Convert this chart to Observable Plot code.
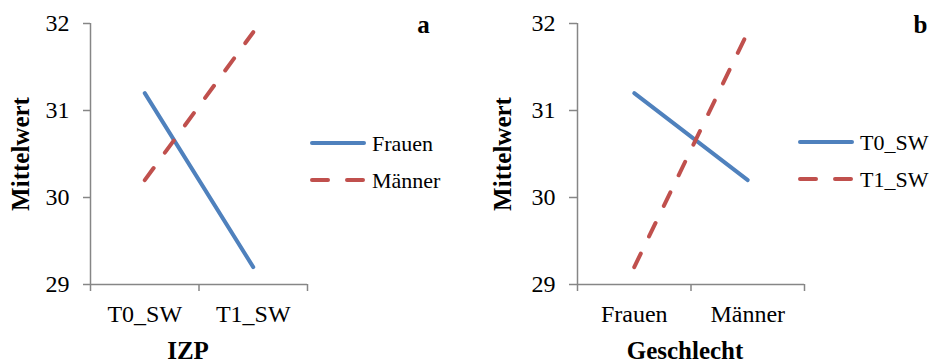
<!DOCTYPE html>
<html>
<head>
<meta charset="utf-8">
<script src="https://cdn.jsdelivr.net/npm/d3@7"></script>
<script src="https://cdn.jsdelivr.net/npm/@observablehq/plot@0.6"></script>
<style>
  html, body { margin: 0; padding: 0; background: #fff; }
  #wrap { position: relative; width: 936px; height: 363px; overflow: hidden; font-family: "Liberation Serif", serif; }
  #wrap > .panel { position: absolute; top: 0; }
  .legend { position: absolute; }
</style>
</head>
<body>
<div id="wrap"></div>
<script>
// ---- data ----
const yTicks = [29, 30, 31, 32];

const panelA_categories = ["T0_SW", "T1_SW"];
const panelA_frauen = [31.2, 29.2];
const panelA_maenner = [30.2, 31.9];
const panelA_seriesNames = ["Frauen", "Männer"];

const panelB_categories = ["Frauen", "Männer"];
const panelB_t0 = [31.2, 30.2];
const panelB_t1 = [29.2, 31.9];
const panelB_seriesNames = ["T0_SW", "T1_SW"];

const BLUE = "#4F81BD";
const RED = "#C0504D";
const AXIS = "#868686";
const DASH = "15 19";
const SERIF = "Liberation Serif, serif";

function rows(values, name) {
  return values.map((v, i) => ({ i, value: v, series: name }));
}

function panel(cfg) {
  const s1 = rows(cfg.solid, cfg.names[0]);
  const s2 = rows(cfg.dashed, cfg.names[1]);
  return Plot.plot({
    width: 468,
    height: 363,
    marginLeft: cfg.marginLeft,
    marginRight: cfg.marginRight,
    marginTop: 23,
    marginBottom: 79,
    style: { fontFamily: SERIF, fontSize: "24px", color: "#000", background: "#fff", overflow: "visible" },
    x: { type: "linear", domain: [-0.5, cfg.categories.length - 0.5] },
    y: { domain: [29, 32] },
    marks: [
      Plot.axisY({ ticks: yTicks, tickSize: cfg.yTickSize, tickPadding: 14, stroke: AXIS, strokeWidth: 1.5, fill: "#000", fontSize: 24, label: null, tickFormat: d => String(d) }),
      Plot.axisX({ ticks: d3.range(cfg.categories.length + 1).map(k => k - 0.5), tickSize: 7, stroke: AXIS, strokeWidth: 1.5, tickFormat: () => "", label: null }),
      Plot.axisX({ ticks: d3.range(cfg.categories.length), tickSize: 0, tickPadding: 20, fill: "#000", fontSize: 24, tickFormat: k => cfg.categories[k], label: null }),
      Plot.ruleX([-0.5], { y1: 29, y2: 32, stroke: AXIS, strokeWidth: 1.5 }),
      Plot.ruleY([29], { stroke: AXIS, strokeWidth: 1.5 }),
      Plot.line(s1, { x: "i", y: "value", stroke: BLUE, strokeWidth: 4, strokeLinecap: "round" }),
      Plot.line(s2, { x: "i", y: "value", stroke: RED, strokeWidth: 4, strokeLinecap: "round", strokeDasharray: DASH }),
      Plot.text([cfg.yTitle], { frameAnchor: "left", dx: cfg.yTitleDx, rotate: -90, lineAnchor: "bottom", textAnchor: "middle", fontWeight: "bold", fontSize: 25, fill: "#000" }),
      Plot.text([cfg.xTitle], { frameAnchor: "bottom", dy: 74, dx: cfg.xTitleDx, lineAnchor: "bottom", textAnchor: "middle", fontWeight: "bold", fontSize: 25, fill: "#000" }),
      Plot.text([cfg.letter], { frameAnchor: "top-right", dx: 116, dy: 9, lineAnchor: "bottom", textAnchor: "middle", fontWeight: "bold", fontSize: 25, fill: "#000" })
    ]
  });
}

function legend(names, left, top) {
  const svg = d3.create("svg").attr("width", 160).attr("height", 80)
    .attr("class", "legend")
    .style("left", left + "px").style("top", top + "px");
  const items = [
    { name: names[0], color: BLUE, dash: null, y: 22 },
    { name: names[1], color: RED, dash: "16 19", y: 59 }
  ];
  const g = svg.selectAll("g").data(items).join("g");
  g.append("line").attr("x1", 4).attr("x2", 56)
    .attr("y1", d => d.y).attr("y2", d => d.y)
    .attr("stroke", d => d.color).attr("stroke-width", 4)
    .attr("stroke-linecap", "round")
    .attr("stroke-dasharray", d => d.dash);
  g.append("text").attr("x", 64).attr("y", d => d.y + 8)
    .attr("font-family", SERIF)
    .attr("font-size", 22).attr("fill", "#000")
    .text(d => d.name);
  return svg.node();
}

const wrap = document.getElementById("wrap");

const a = panel({
  categories: panelA_categories, solid: panelA_frauen, dashed: panelA_maenner, names: panelA_seriesNames,
  marginLeft: 90, marginRight: 161, yTickSize: 7, yTitle: "Mittelwert", yTitleDx: -62,
  xTitle: "IZP", xTitleDx: -11, letter: "a"
});
a.classList.add("panel");
a.style.left = "0px";
wrap.appendChild(a);

const b = panel({
  categories: panelB_categories, solid: panelB_t0, dashed: panelB_t1, names: panelB_seriesNames,
  marginLeft: 109, marginRight: 132, yTickSize: 8, yTitle: "Mittelwert", yTitleDx: -67,
  xTitle: "Geschlecht", xTitleDx: -6, letter: "b"
});
b.classList.add("panel");
b.style.left = "468px";
wrap.appendChild(b);

wrap.appendChild(legend(panelA_seriesNames, 308, 121));
wrap.appendChild(legend(panelB_seriesNames, 796, 120));
</script>
</body>
</html>
